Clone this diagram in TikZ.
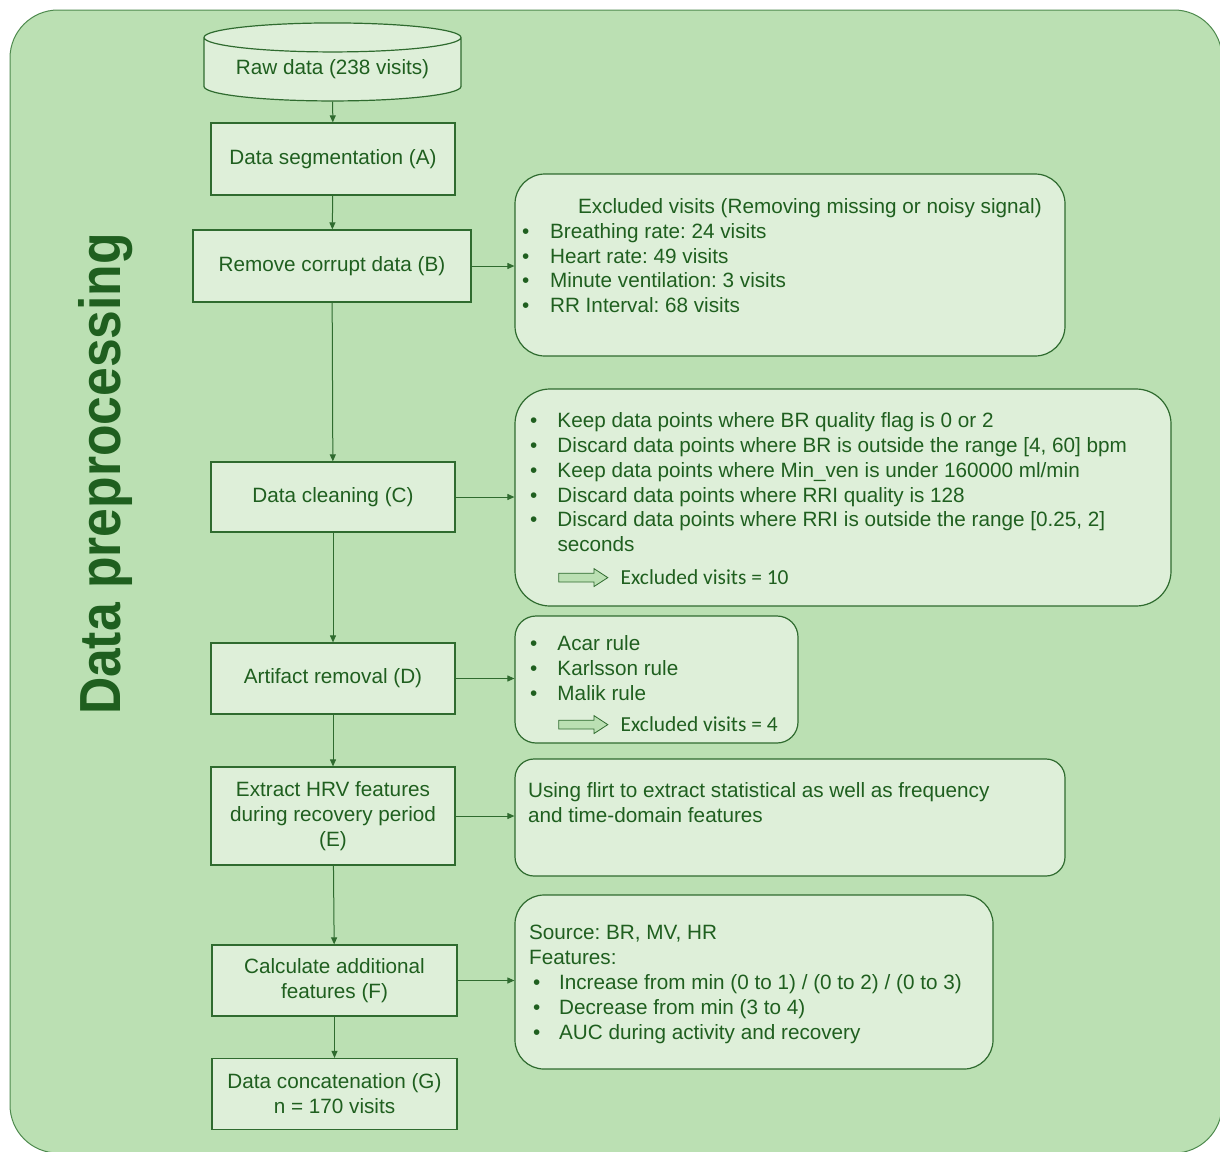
\documentclass[tikz,border=0pt]{standalone}
\usepackage{fontspec}
\setmainfont{Liberation Sans}
\newfontfamily\calibri{Carlito}
\usetikzlibrary{shapes.geometric,shapes.arrows,arrows.meta,calc,positioning}

\definecolor{bgGreen}{HTML}{BBE0B3}
\definecolor{boxFill}{HTML}{DEEFD9}
\definecolor{inkGreen}{HTML}{1F5F1F}
\definecolor{lineGreen}{HTML}{2F6B2F}
\definecolor{rimGreen}{HTML}{4E8A4E}

\newcommand{\itm}[1][27.5pt]{\makebox[#1][l]{\textbullet}}
\frenchspacing

\begin{document}
\begin{tikzpicture}[x=1pt,y=-1pt,
    every node/.style={text=inkGreen, font=\fontsize{20.7}{24.9}\selectfont},
    stage/.style={draw=lineGreen, fill=boxFill, line width=1.2pt, align=center},
    note/.style={draw=lineGreen, fill=boxFill, line width=1.2pt},
    notetext/.style={anchor=north west, inner sep=0pt, align=left},
    fat/.style={single arrow, draw=lineGreen, fill=bgGreen, line width=0.8pt,
        minimum height=49, single arrow head extend=4.5,
        single arrow tip angle=66, inner xsep=0pt, inner ysep=4pt},
    exclnum/.style={font=\calibri\fontsize{21.4}{25}\selectfont, inner sep=0pt, anchor=west},
    >={Triangle[length=7pt,width=6pt]}]

    \useasboundingbox (0,0) rectangle (1220,1151);
    \draw[fill=bgGreen, draw=rimGreen, line width=1pt, rounded corners=48] (10,10) rectangle (1222,1153);

    % title
    \node[rotate=90, xscale=0.89, font=\bfseries\fontsize{58}{64}\selectfont] (title) at (106,474) {Data preprocessing};

    % main steps
    \node[cylinder, shape border rotate=90, aspect=0.15, draw=lineGreen, fill=boxFill, line width=1.2pt,
          minimum width=257, minimum height=78, inner sep=0pt] (raw) at (332.5,69.5) {Raw data (238 visits)};
    \node[stage, minimum width=244, minimum height=72] (seg) at (333,159) {Data segmentation (A)};
    \node[stage, minimum width=278, minimum height=72] (corr) at (332,266) {Remove corrupt data (B)};
    \node[stage, minimum width=244, minimum height=70] (clean) at (333,497) {Data cleaning (C)};
    \node[stage, minimum width=244, minimum height=71] (art) at (333,678.5) {Artifact removal (D)};
    \node[stage, minimum width=244, minimum height=98] (hrv) at (333,816) {Extract HRV features\\during recovery period\\(E)};
    \node[stage, minimum width=245, minimum height=71] (feat) at (334.5,980.5) {Calculate additional\\features (F)};
    \node[stage, minimum width=245, minimum height=71] (conc) at (334.5,1094) {Data concatenation (G)\\n = 170 visits};

    % side notes
    \node[note, rounded corners=30, minimum width=550, minimum height=182] (excl) at (790,265) {};
    \node[note, rounded corners=35, minimum width=656, minimum height=217] (rules) at (843,497.5) {};
    \node[note, rounded corners=21, minimum width=283, minimum height=127] (arti) at (656.5,679.5) {};
    \node[note, rounded corners=19, minimum width=550, minimum height=117] (flirt) at (790,817.5) {};
    \node[note, rounded corners=29, minimum width=478, minimum height=174] (addf) at (754,982) {};

    \node[notetext, font=\fontsize{20.7}{24.7}\selectfont] (excltxt) at ($(excl.north west)+(7.5,25)$)
        {\hspace*{56pt}Excluded visits (Removing missing or noisy signal)\\
         \itm[28pt]Breathing rate: 24 visits\\
         \itm[28pt]Heart rate: 49 visits\\
         \itm[28pt]Minute ventilation: 3 visits\\
         \itm[28pt]RR Interval: 68 visits};
    \node[notetext] (rulestxt) at ($(rules.north west)+(15.4,23.7)$)
        {\itm Keep data points where BR quality flag is 0 or 2\\
         \itm Discard data points where BR is outside the range [4, 60] bpm\\
         \itm Keep data points where Min\_ven is under 160000 ml/min\\
         \itm Discard data points where RRI quality is 128\\
         \itm Discard data points where RRI is outside the range [0.25, 2]\\
         \hspace*{27.5pt}seconds};
    \node[fat] (fat1) at ($(rules.south west)+(65.5,-29)$) {};
    \node[exclnum] (ex1) at ([xshift=12pt]fat1.east) {Excluded visits = 10};

    \node[notetext] (artitxt) at ($(arti.north west)+(15.4,20.2)$)
        {\itm Acar rule\\
         \itm Karlsson rule\\
         \itm Malik rule};
    \node[fat] (fat2) at ($(arti.south west)+(65.5,-19)$) {};
    \node[exclnum] (ex2) at ([xshift=12pt]fat2.east) {Excluded visits = 4};

    \node[notetext] (flirttxt) at ($(flirt.north west)+(13.5,24)$)
        {Using flirt to extract statistical as well as frequency\\
         and time-domain features};
    \node[notetext] (addftxt) at ($(addf.north west)+(14.5,30.5)$)
        {Source: BR, MV, HR\\
         Features:\\
         \hspace*{4pt}\itm[26pt]Increase from min (0 to 1) / (0 to 2) / (0 to 3)\\
         \hspace*{4pt}\itm[26pt]Decrease from min (3 to 4)\\
         \hspace*{4pt}\itm[26pt]AUC during activity and recovery};

    % connectors
    \draw[->, lineGreen, line width=1pt]
        (raw) edge (seg)
        (seg) edge (corr)
        (corr) edge (clean)
        (clean) edge (art)
        (art) edge (hrv)
        (hrv) edge (feat)
        (feat) edge (conc)
        (corr) edge (corr -| excl.west)
        (clean) edge (clean -| rules.west)
        (art) edge (art -| arti.west)
        (hrv) edge (hrv -| flirt.west)
        (feat) edge (feat -| addf.west)
        ;
\end{tikzpicture}
\end{document}
